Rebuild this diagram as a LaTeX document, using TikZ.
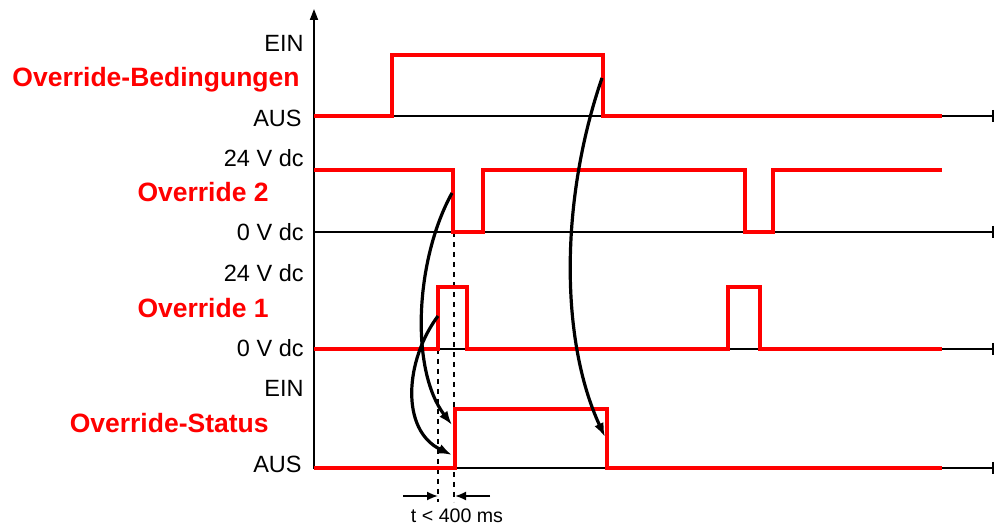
\documentclass[tikz,border=0pt]{standalone}
\usepackage{fontspec}
\setmainfont{Liberation Sans}
\usetikzlibrary{arrows.meta}
\definecolor{sigRed}{HTML}{FF0000}
\begin{document}
\begin{tikzpicture}[x=0.5pt,y=-0.5pt,
  lvl/.style={anchor=base east,inner sep=0pt,font=\fontsize{11.75}{14}\selectfont},
  sig/.style={anchor=base east,inner sep=0pt,text=sigRed,font=\fontsize{13.25}{16}\selectfont\bfseries},
  wave/.style={sigRed,line width=2pt},
  axisline/.style={line width=0.9pt,-{Bar[width=6pt,line width=0.9pt]}},
  cause/.style={line width=1.6pt,-{Latex[length=7pt,width=5pt]}},
  guide/.style={line width=1pt,dash pattern=on 2.5pt off 2.5pt},
  dim/.style={line width=0.9pt,-{Latex[length=5.5pt,width=4.5pt]}}]
\useasboundingbox (0,0) rectangle (995,528);
\node[lvl] (bedHi) at (304,52) {EIN};
\node[sig] (bedName) at (300,87) {Override-Bedingungen};
\node[lvl] (bedLo) at (302,127) {AUS};
\node[lvl] (ov2Hi) at (304,167) {24 V dc};
\node[sig] (ov2Name) at (269,202) {Override 2};
\node[lvl] (ov2Lo) at (304,241) {0 V dc};
\node[lvl] (ov1Hi) at (304,282) {24 V dc};
\node[sig] (ov1Name) at (269,318) {Override 1};
\node[lvl] (ov1Lo) at (304,357) {0 V dc};
\node[lvl] (stHi) at (304,397) {EIN};
\node[sig] (stName) at (269,433) {Override-Status};
\node[lvl] (stLo) at (302,473) {AUS};
\draw[line width=0.9pt,-{Triangle[length=5.5pt,width=4pt]}] (314,469) -- (314,9);
\foreach \y in {116,232,349,468} \draw[axisline] (314,\y) -- (994,\y);
\coordinate (ov1Low) at (438,349);
\coordinate (ov2Low) at (454,232);
\coordinate (tA) at (438,502);
\coordinate (tB) at (454,502);
\draw[guide] (ov1Low) -- (tA);
\draw[guide] (ov2Low) -- (tB);
\draw[wave] (314,116) -| (392,55) -| (603,116) -- (942,116);
\draw[wave] (314,170) -| (453,232) -| (483,170) -| (745,232) -| (773,170) -- (942,170);
\draw[wave] (314,349) -| (438,287) -| (467,349) -| (728,287) -| (760,349) -- (942,349);
\draw[wave] (314,468) -| (455,409) -| (607,468) -- (942,468);
\coordinate (bedFall) at (602,78);
\coordinate (stFall) at (605,437);
\coordinate (ov2Fall) at (452,193);
\coordinate (stRiseA) at (452,425);
\coordinate (ov1Rise) at (438,316);
\coordinate (stRiseB) at (452,455);
\draw[cause] (bedFall) .. controls (560,200) and (560,340) .. (stFall);
\draw[cause] (ov2Fall) .. controls (415,260) and (410,370) .. (stRiseA);
\draw[cause] (ov1Rise) .. controls (405,360) and (400,430) .. (stRiseB);
\coordinate (dimL) at (403,496);
\coordinate (dimR) at (490,496);
\draw[dim] (dimL) -- (tA |- dimL);
\draw[dim] (dimR) -- ([xshift=0.5pt]tB |- dimR);
\node[anchor=base,font=\fontsize{9.8}{12}\selectfont] (tLabel) at (457,523) {t < 400 ms};
\end{tikzpicture}
\end{document}
